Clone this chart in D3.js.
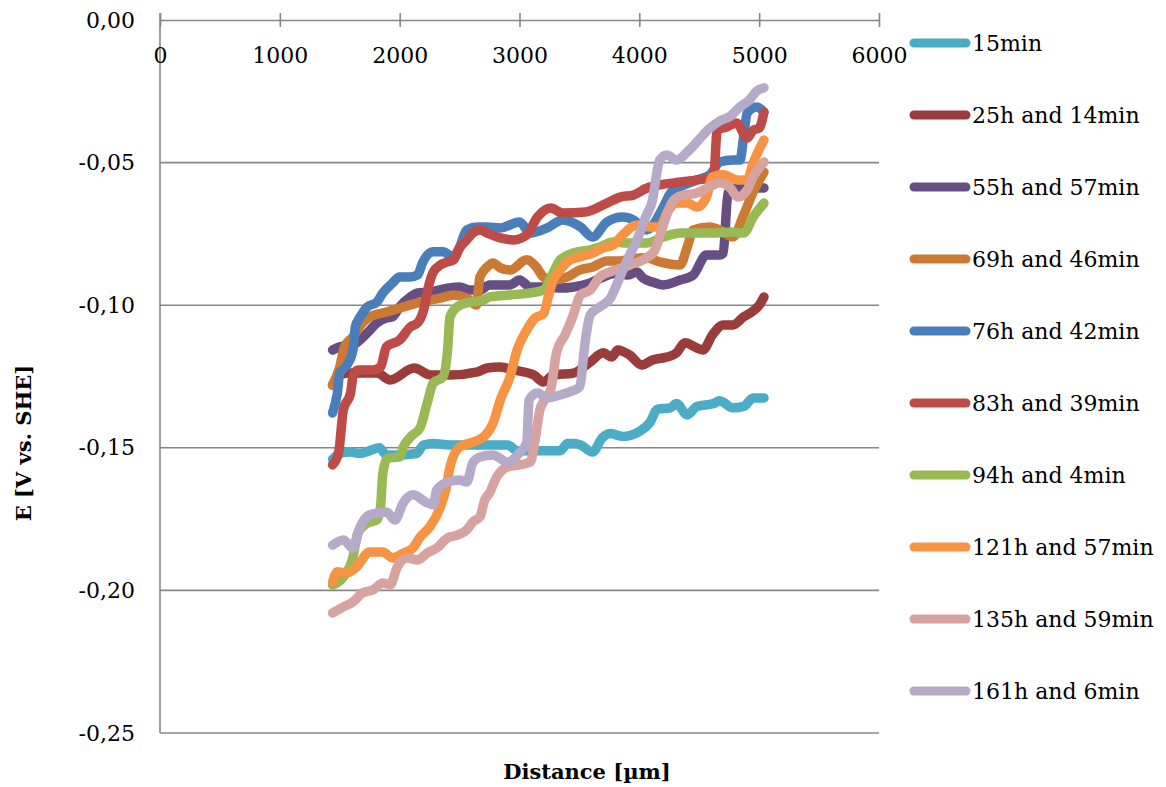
<!DOCTYPE html>
<html>
<head>
<meta charset="utf-8">
<script src="https://cdn.jsdelivr.net/npm/d3@7"></script>
<style>
  body { margin: 0; background: #fff; }
  #chart text { font-family: "DejaVu Serif", serif; fill: #000; }
</style>
</head>
<body>
<div id="chart"></div>
<script>
const distanceTicks = [0, 1000, 2000, 3000, 4000, 5000, 6000];
const potentialTicks = [0, -0.05, -0.10, -0.15, -0.20, -0.25];

const seriesNames = [
  "15min", "25h and 14min", "55h and 57min", "69h and 46min", "76h and 42min",
  "83h and 39min", "94h and 4min", "121h and 57min", "135h and 59min", "161h and 6min"
];

const seriesColors = [
  "#4BACC6", "#9A3D3A", "#664E82", "#CC7A33", "#4A7EBB",
  "#BE4B48", "#98B954", "#F69443", "#D7A3A1", "#B5AAC8"
];

// [distance µm, potential V]
const s15min = [[1440,-0.1540],[1500,-0.1520],[1590,-0.1515],[1670,-0.1520],[1750,-0.1510],[1830,-0.1500],[1890,-0.1525],[2000,-0.1525],[2140,-0.1520],[2200,-0.1490],[2280,-0.1485],[2420,-0.1490],[2670,-0.1490],[2900,-0.1490],[2980,-0.1510],[3170,-0.1510],[3340,-0.1510],[3400,-0.1485],[3460,-0.1485],[3510,-0.1490],[3610,-0.1515],[3690,-0.1465],[3760,-0.1450],[3860,-0.1460],[4010,-0.1440],[4090,-0.1410],[4150,-0.1365],[4260,-0.1360],[4310,-0.1345],[4400,-0.1385],[4480,-0.1355],[4620,-0.1345],[4670,-0.1335],[4780,-0.1360],[4870,-0.1355],[4950,-0.1325],[5040,-0.1325]];

const s25h14min = [[1440,-0.1280],[1500,-0.1245],[1570,-0.1238],[1810,-0.1238],[1920,-0.1262],[2120,-0.1220],[2260,-0.1245],[2420,-0.1245],[2650,-0.1234],[2730,-0.1220],[2840,-0.1217],[2950,-0.1227],[3120,-0.1245],[3200,-0.1269],[3280,-0.1245],[3450,-0.1238],[3590,-0.1199],[3700,-0.1167],[3770,-0.1182],[3820,-0.1157],[3920,-0.1175],[4020,-0.1210],[4110,-0.1192],[4230,-0.1182],[4310,-0.1167],[4380,-0.1132],[4480,-0.1150],[4530,-0.1157],[4610,-0.1104],[4700,-0.1069],[4780,-0.1069],[4870,-0.1041],[4950,-0.1020],[5000,-0.1000],[5040,-0.0971]];

const s55h57min = [[1440,-0.1157],[1500,-0.1146],[1610,-0.1139],[1730,-0.1097],[1810,-0.1062],[1890,-0.1045],[1940,-0.1041],[2000,-0.1006],[2090,-0.0971],[2150,-0.0957],[2250,-0.0954],[2400,-0.0940],[2500,-0.0936],[2590,-0.0947],[2670,-0.0947],[2750,-0.0929],[2920,-0.0929],[3000,-0.0912],[3090,-0.0936],[3230,-0.0936],[3340,-0.0940],[3450,-0.0936],[3590,-0.0922],[3700,-0.0901],[3780,-0.0890],[3900,-0.0894],[3980,-0.0884],[4030,-0.0905],[4110,-0.0919],[4200,-0.0929],[4340,-0.0912],[4450,-0.0894],[4560,-0.0824],[4670,-0.0824],[4700,-0.0817],[4740,-0.0607],[4810,-0.0589],[5040,-0.0589]];

const s69h46min = [[1440,-0.1280],[1500,-0.1217],[1540,-0.1146],[1610,-0.1111],[1690,-0.1062],[1750,-0.1041],[1890,-0.1024],[2000,-0.1010],[2150,-0.0992],[2250,-0.0982],[2340,-0.0975],[2450,-0.0964],[2560,-0.0975],[2640,-0.0999],[2670,-0.0901],[2730,-0.0866],[2780,-0.0852],[2840,-0.0869],[2920,-0.0877],[3060,-0.0841],[3140,-0.0866],[3200,-0.0901],[3280,-0.0912],[3400,-0.0901],[3500,-0.0877],[3610,-0.0866],[3730,-0.0845],[3840,-0.0845],[3950,-0.0836],[4060,-0.0834],[4170,-0.0848],[4340,-0.0859],[4400,-0.0796],[4450,-0.0736],[4590,-0.0726],[4670,-0.0736],[4780,-0.0761],[4870,-0.0684],[4950,-0.0603],[5040,-0.0533]];

const s76h42min = [[1440,-0.1378],[1480,-0.1308],[1500,-0.1238],[1560,-0.1210],[1610,-0.1157],[1630,-0.1076],[1670,-0.1041],[1730,-0.1006],[1810,-0.0989],[1860,-0.0957],[1940,-0.0922],[2000,-0.0901],[2090,-0.0901],[2150,-0.0894],[2190,-0.0852],[2280,-0.0813],[2360,-0.0813],[2450,-0.0831],[2500,-0.0796],[2560,-0.0736],[2650,-0.0726],[2730,-0.0726],[2840,-0.0729],[3000,-0.0708],[3090,-0.0747],[3230,-0.0729],[3360,-0.0701],[3510,-0.0726],[3610,-0.0761],[3730,-0.0708],[3860,-0.0691],[3950,-0.0701],[4060,-0.0736],[4200,-0.0656],[4260,-0.0607],[4340,-0.0585],[4480,-0.0561],[4590,-0.0543],[4670,-0.0498],[4780,-0.0491],[4840,-0.0491],[4870,-0.0410],[4900,-0.0326],[4980,-0.0305],[5040,-0.0323]];

const s83h39min = [[1440,-0.1560],[1490,-0.1518],[1530,-0.1367],[1590,-0.1308],[1610,-0.1252],[1650,-0.1227],[1780,-0.1227],[1840,-0.1217],[1890,-0.1146],[2000,-0.1122],[2090,-0.1076],[2150,-0.1062],[2200,-0.1017],[2240,-0.0936],[2280,-0.0884],[2340,-0.0859],[2400,-0.0848],[2450,-0.0841],[2500,-0.0799],[2560,-0.0771],[2610,-0.0747],[2670,-0.0736],[2730,-0.0747],[2840,-0.0764],[2950,-0.0771],[3060,-0.0754],[3150,-0.0691],[3260,-0.0659],[3360,-0.0677],[3550,-0.0673],[3730,-0.0642],[3840,-0.0621],[3950,-0.0614],[4060,-0.0590],[4170,-0.0578],[4290,-0.0571],[4480,-0.0561],[4620,-0.0550],[4650,-0.0386],[4730,-0.0375],[4810,-0.0361],[4900,-0.0414],[4950,-0.0386],[5000,-0.0379],[5040,-0.0323]];

const s94h4min = [[1440,-0.1981],[1530,-0.1953],[1610,-0.1883],[1650,-0.1799],[1730,-0.1764],[1810,-0.1753],[1840,-0.1707],[1860,-0.1588],[1900,-0.1536],[2000,-0.1532],[2030,-0.1497],[2090,-0.1462],[2170,-0.1430],[2230,-0.1343],[2280,-0.1273],[2360,-0.1252],[2400,-0.1157],[2420,-0.1041],[2480,-0.1006],[2590,-0.0989],[2700,-0.0982],[2750,-0.0971],[2920,-0.0964],[3090,-0.0957],[3200,-0.0947],[3280,-0.0887],[3340,-0.0841],[3450,-0.0817],[3590,-0.0806],[3670,-0.0796],[3780,-0.0778],[3900,-0.0782],[4060,-0.0782],[4200,-0.0761],[4340,-0.0747],[4480,-0.0747],[4620,-0.0747],[4760,-0.0743],[4870,-0.0747],[4950,-0.0691],[5040,-0.0642]];

const s121h57min = [[1440,-0.1970],[1480,-0.1935],[1560,-0.1939],[1640,-0.1918],[1750,-0.1865],[1860,-0.1865],[1940,-0.1886],[2030,-0.1869],[2110,-0.1851],[2170,-0.1813],[2250,-0.1778],[2340,-0.1707],[2390,-0.1637],[2420,-0.1567],[2500,-0.1497],[2610,-0.1480],[2700,-0.1462],[2780,-0.1413],[2840,-0.1332],[2920,-0.1252],[2980,-0.1157],[3060,-0.1087],[3130,-0.1045],[3200,-0.1030],[3240,-0.0971],[3280,-0.0912],[3340,-0.0877],[3400,-0.0848],[3500,-0.0831],[3610,-0.0817],[3700,-0.0799],[3780,-0.0789],[3860,-0.0754],[3980,-0.0719],[4090,-0.0726],[4170,-0.0726],[4230,-0.0677],[4310,-0.0642],[4400,-0.0642],[4480,-0.0656],[4560,-0.0621],[4610,-0.0550],[4700,-0.0543],[4820,-0.0561],[4900,-0.0561],[4950,-0.0501],[5010,-0.0445],[5040,-0.0421]];

const s135h59min = [[1440,-0.2079],[1530,-0.2058],[1610,-0.2040],[1690,-0.2009],[1780,-0.1998],[1860,-0.1974],[1920,-0.1981],[1980,-0.1918],[2060,-0.1886],[2150,-0.1893],[2230,-0.1869],[2310,-0.1851],[2400,-0.1816],[2480,-0.1806],[2560,-0.1788],[2610,-0.1760],[2670,-0.1742],[2710,-0.1683],[2750,-0.1658],[2810,-0.1602],[2900,-0.1567],[3000,-0.1560],[3090,-0.1550],[3130,-0.1473],[3170,-0.1367],[3210,-0.1332],[3260,-0.1297],[3310,-0.1164],[3380,-0.1104],[3440,-0.1045],[3510,-0.0964],[3590,-0.0947],[3670,-0.0901],[3780,-0.0880],[3920,-0.0859],[4060,-0.0834],[4130,-0.0806],[4200,-0.0719],[4260,-0.0649],[4340,-0.0617],[4480,-0.0607],[4570,-0.0589],[4670,-0.0571],[4760,-0.0589],[4820,-0.0621],[4900,-0.0596],[4950,-0.0550],[5040,-0.0498]];

const s161h6min = [[1440,-0.1841],[1530,-0.1823],[1610,-0.1851],[1670,-0.1778],[1750,-0.1735],[1890,-0.1725],[1960,-0.1753],[2030,-0.1693],[2110,-0.1665],[2230,-0.1693],[2280,-0.1700],[2310,-0.1648],[2400,-0.1620],[2500,-0.1613],[2560,-0.1620],[2610,-0.1553],[2670,-0.1532],[2780,-0.1525],[2900,-0.1550],[3000,-0.1518],[3060,-0.1483],[3080,-0.1332],[3150,-0.1308],[3230,-0.1325],[3340,-0.1315],[3420,-0.1304],[3500,-0.1287],[3550,-0.1122],[3590,-0.1034],[3670,-0.1006],[3760,-0.0975],[3810,-0.0929],[3900,-0.0841],[3980,-0.0771],[4060,-0.0684],[4110,-0.0631],[4150,-0.0526],[4170,-0.0491],[4230,-0.0473],[4310,-0.0491],[4400,-0.0463],[4480,-0.0428],[4570,-0.0386],[4670,-0.0354],[4760,-0.0337],[4840,-0.0305],[4920,-0.0280],[4980,-0.0249],[5040,-0.0238]];

const seriesValues = [
  s15min, s25h14min, s55h57min, s69h46min, s76h42min,
  s83h39min, s94h4min, s121h57min, s135h59min, s161h6min
];

const margin = { top: 20, right: 287, bottom: 54, left: 160 },
  width = 1166 - margin.left - margin.right,
  height = 787 - margin.top - margin.bottom;

const svgRoot = d3.select("#chart")
  .append("svg")
  .attr("width", 1166)
  .attr("height", 787);

const svg = svgRoot.append("g")
  .attr("transform", "translate(" + margin.left + "," + margin.top + ")");

const x = d3.scaleLinear().domain([0, 6000]).range([0, width]);
const y = d3.scaleLinear().domain([0, -0.25]).range([0, height]);

const locale = d3.formatLocale({ decimal: ",", thousands: "", grouping: [3], currency: ["", ""], minus: "-" });
const fmtY = locale.format(".2f");

// horizontal grid
svg.append("g")
  .selectAll("line")
  .data(potentialTicks.slice(1))
  .enter()
  .append("line")
  .attr("x1", 0)
  .attr("x2", width)
  .attr("y1", (d) => y(d))
  .attr("y2", (d) => y(d))
  .style("stroke", "#878787")
  .style("stroke-width", 1.6);

// y axis (labels only)
const yAxis = svg.append("g")
  .call(d3.axisLeft(y).tickValues(potentialTicks).tickSize(0).tickPadding(25).tickFormat(fmtY));
yAxis.select(".domain").remove();
yAxis.selectAll("text").style("font-size", "22px").style("font-family", "DejaVu Serif");

svg.append("line")
  .attr("x1", 0).attr("x2", 0)
  .attr("y1", -7).attr("y2", height)
  .style("stroke", "#878787")
  .style("stroke-width", 1.6);

// x axis on top, crossing ticks
const xAxis = svg.append("g")
  .call(d3.axisBottom(x).tickValues(distanceTicks).tickSizeInner(7).tickSizeOuter(0).tickPadding(20).tickFormat(d3.format("d")));
xAxis.select(".domain").style("stroke", "#878787").style("stroke-width", 1.6);
xAxis.selectAll(".tick line")
  .attr("y1", -7)
  .attr("y2", 7)
  .style("stroke", "#878787")
  .style("stroke-width", 1.6);
xAxis.selectAll("text").style("font-size", "22px").style("font-family", "DejaVu Serif");

// series
const line = d3.line()
  .x((d) => x(d[0]))
  .y((d) => y(d[1]))
  .curve(d3.curveMonotoneX);

svg.append("g")
  .selectAll("path")
  .data(seriesValues)
  .enter()
  .append("path")
  .attr("d", (d) => line(d))
  .style("fill", "none")
  .style("stroke", (d, i) => seriesColors[i])
  .style("stroke-width", 9.5)
  .style("stroke-linejoin", "round")
  .style("stroke-linecap", "round");

// axis titles
svgRoot.append("text")
  .attr("x", 587)
  .attr("y", 779)
  .style("text-anchor", "middle")
  .style("font-size", "21px")
  .style("font-weight", "bold")
  .text("Distance [µm]");

svgRoot.append("text")
  .attr("transform", "translate(31,443) rotate(-90)")
  .style("text-anchor", "middle")
  .style("font-size", "21px")
  .style("font-weight", "bold")
  .text("E [V vs. SHE]");

// legend
const legend = svgRoot.append("g")
  .attr("transform", "translate(914, 43)");

const items = legend.selectAll(".legend-item")
  .data(seriesNames)
  .enter()
  .append("g")
  .attr("class", "legend-item")
  .attr("transform", (d, i) => `translate(0, ${i * 72})`);

items.append("line")
  .attr("x1", 0)
  .attr("x2", 52)
  .attr("y1", 0)
  .attr("y2", 0)
  .style("stroke", (d, i) => seriesColors[i])
  .style("stroke-width", 9)
  .style("stroke-linecap", "round");

items.append("text")
  .attr("x", 58)
  .attr("y", 0)
  .attr("dy", ".36em")
  .style("font-size", "22px")
  .text((d) => d);
</script>
</body>
</html>
